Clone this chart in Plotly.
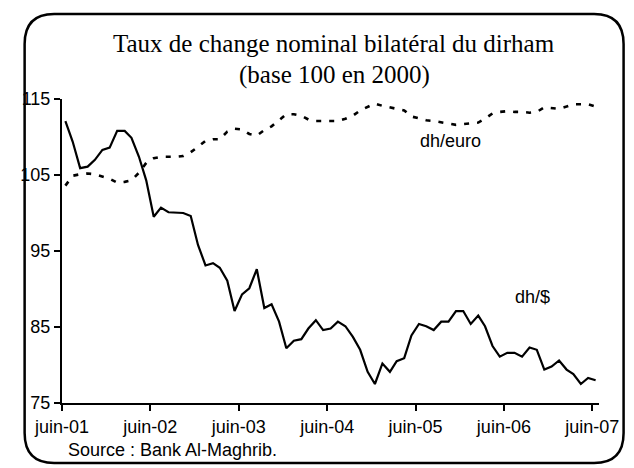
import pandas as pd
import plotly.graph_objects as go

# Monthly observations, June 2001 -> June 2007 (73 months)
months = pd.date_range("2001-06-01", periods=73, freq="MS") + pd.Timedelta(days=14)

dh_usd = [112.1, 109.4, 105.9, 106.1, 107.0, 108.3, 108.6, 110.8, 110.8, 109.9,
          107.4, 104.3, 99.5, 100.7, 100.1, 100.0, 100.0, 99.6, 95.8, 93.1,
          93.4, 92.8, 91.1, 87.1, 89.3, 90.1, 92.6, 87.5, 88.0, 85.7,
          82.2, 83.2, 83.4, 84.8, 85.9, 84.6, 84.8, 85.7, 85.1, 83.7,
          82.0, 79.1, 77.5, 80.2, 79.1, 80.5, 80.9, 83.9, 85.4, 85.1,
          84.6, 85.7, 85.7, 87.1, 87.1, 85.4, 86.5, 85.1, 82.5, 81.1,
          81.6, 81.6, 81.1, 82.3, 82.0, 79.4, 79.8, 80.6, 79.4, 78.8,
          77.5, 78.3, 78.0]

dh_eur = [103.6, 104.9, 105.1, 105.2, 105.1, 104.8, 104.5, 104.0, 104.1, 104.3,
          105.3, 106.6, 107.2, 107.4, 107.4, 107.4, 107.5, 108.0, 108.7, 109.5,
          109.7, 109.7, 110.7, 111.1, 111.0, 110.4, 110.2, 110.9, 111.4, 112.2,
          113.0, 113.0, 112.8, 112.3, 112.1, 112.1, 112.1, 112.1, 112.4, 112.8,
          113.5, 114.0, 114.4, 114.1, 113.9, 113.7, 113.5, 112.7, 112.4, 112.2,
          112.1, 111.9, 111.7, 111.6, 111.7, 111.8, 111.9, 112.4, 113.1, 113.3,
          113.4, 113.3, 113.3, 113.2, 113.3, 113.9, 113.8, 113.7, 114.0, 114.3,
          114.3, 114.3, 114.0]

tick_dates = ["2001-06-01", "2002-06-01", "2003-06-01", "2004-06-01",
              "2005-06-01", "2006-06-01", "2007-06-01"]
tick_labels = ["juin-01", "juin-02", "juin-03", "juin-04", "juin-05", "juin-06", "juin-07"]
y_ticks = [75, 85, 95, 105, 115]

# page body has an 8px margin: the figure is drawn from (8, 8) of the window
OFF = 8
WIN_W, WIN_H = 634, 468
W, H = WIN_W - OFF, WIN_H - OFF
PLOT_L, PLOT_R, PLOT_T, PLOT_B = 53, 599, 99, 403   # window pixels
L_M, R_M = PLOT_L - OFF, WIN_W - PLOT_R
T_M, B_M = PLOT_T - OFF, WIN_H - PLOT_B
PW = PLOT_R - PLOT_L
PH = PLOT_B - PLOT_T


def px(x):
    return (x - PLOT_L) / PW


def py(y):
    return (PLOT_B - y) / PH


SANS = "Liberation Sans, Arial, sans-serif"
SERIF = "Liberation Serif, Times New Roman, serif"

fig = go.Figure()
fig.add_trace(go.Scatter(x=months, y=dh_usd, mode="lines", name="dh/$",
                         line=dict(color="black", width=2.2), showlegend=False))
fig.add_trace(go.Scatter(x=months, y=dh_eur, mode="lines", name="dh/euro",
                         line=dict(color="black", width=2.6, dash="5px,8px"),
                         showlegend=False))

# rounded frame
l, r, t, b, rad = 15, 624, 14, 463, 30
path = (f"M {px(l+rad)},{py(t)} L {px(r-rad)},{py(t)} Q {px(r)},{py(t)} {px(r)},{py(t+rad)} "
        f"L {px(r)},{py(b-rad)} Q {px(r)},{py(b)} {px(r-rad)},{py(b)} "
        f"L {px(l+rad)},{py(b)} Q {px(l)},{py(b)} {px(l)},{py(b-rad)} "
        f"L {px(l)},{py(t+rad)} Q {px(l)},{py(t)} {px(l+rad)},{py(t)} Z")

fig.update_layout(
    width=W, height=H,
    margin=dict(l=L_M, r=R_M, t=T_M, b=B_M, pad=0),
    paper_bgcolor="white", plot_bgcolor="white",
    font=dict(family=SANS, size=18, color="black"),
    shapes=[dict(type="path", xref="paper", yref="paper", path=path,
                 line=dict(color="black", width=2.5), layer="above")],
    annotations=[
        dict(text="Taux de change nominal bilatéral du dirham", x=px(330), y=py(43),
             xref="paper", yref="paper", showarrow=False, xanchor="center", yanchor="middle",
             font=dict(family=SERIF, size=25, color="black")),
        dict(text="(base 100 en 2000)", x=px(330), y=py(75),
             xref="paper", yref="paper", showarrow=False, xanchor="center", yanchor="middle",
             font=dict(family=SERIF, size=25, color="black")),
        dict(text="dh/euro", x=px(448), y=py(141), xref="paper", yref="paper",
             showarrow=False, xanchor="center", yanchor="middle",
             font=dict(family=SANS, size=18, color="black")),
        dict(text="dh/$", x=px(531), y=py(297), xref="paper", yref="paper",
             showarrow=False, xanchor="center", yanchor="middle",
             font=dict(family=SANS, size=18, color="black")),
        dict(text="Source : Bank Al-Maghrib.", x=px(57), y=py(450), xref="paper", yref="paper",
             showarrow=False, xanchor="left", yanchor="middle",
             font=dict(family=SANS, size=18, color="black")),
    ],
)

fig.update_xaxes(type="date", range=["2001-06-01", "2007-06-29"],
                 tickmode="array", tickvals=tick_dates, ticktext=tick_labels,
                 showline=True, linecolor="black", linewidth=2,
                 ticks="outside", ticklen=6, tickwidth=2, tickcolor="black",
                 showgrid=False, zeroline=False,
                 tickfont=dict(family=SANS, size=18, color="black"))
fig.update_yaxes(range=[75, 115], tickmode="array", tickvals=y_ticks,
                 showline=True, linecolor="black", linewidth=2,
                 ticks="outside", ticklen=6, tickwidth=2, tickcolor="black",
                 showgrid=False, zeroline=False,
                 tickfont=dict(family=SANS, size=18, color="black"))

fig.write_html("out.html")
